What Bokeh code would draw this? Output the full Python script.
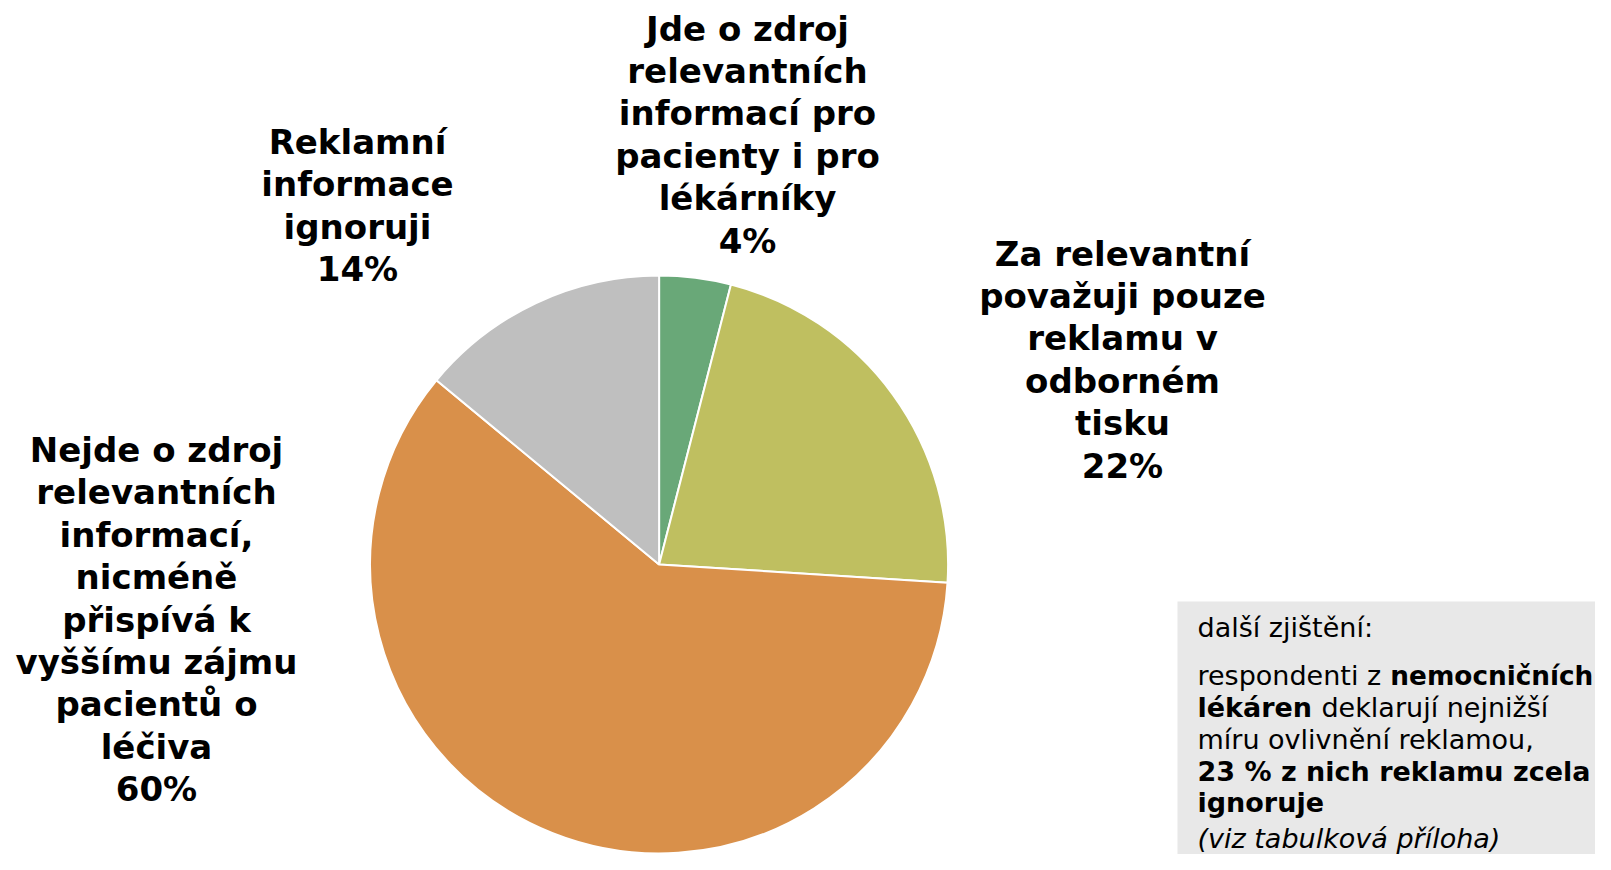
import math
from bokeh.plotting import figure
from bokeh.models import Range1d, ColumnDataSource
from bokeh.core.properties import value
from bokeh.embed import file_html
from bokeh.resources import INLINE

# ---- data ----
categories = [
    "Jde o zdroj relevantních informací pro pacienty i pro lékárníky",
    "Za relevantní považuji pouze reklamu v odborném tisku",
    "Nejde o zdroj relevantních informací, nicméně přispívá k vyššímu zájmu pacientů o léčiva",
    "Reklamní informace ignoruji",
]
shares = [4, 22, 60, 14]
colors = ["#69A878", "#BFBF60", "#D9904A", "#BFBFBF"]
label_lines = [
    ["Jde o zdroj", "relevantních", "informací pro", "pacienty i pro", "lékárníky"],
    ["Za relevantní", "považuji pouze", "reklamu v", "odborném", "tisku"],
    ["Nejde o zdroj", "relevantních", "informací,", "nicméně", "přispívá k", "vyššímu zájmu", "pacientů o", "léčiva"],
    ["Reklamní", "informace", "ignoruji"],
]
# label block centres (screen px)
label_pos = [(747, 134), (1122, 359), (156, 619), (357, 205)]

W, H = 1611, 870
FONT = "DejaVu Sans"

p = figure(width=1595, height=854, output_backend="svg", toolbar_location=None,
           x_range=Range1d(0, 1595), y_range=Range1d(H - 854, H), min_border=0)
p.axis.visible = False
p.grid.visible = False
p.outline_line_color = None
p.background_fill_color = "white"
p.border_fill_color = "white"

def sy(y):
    return H - y

# ---- pie ----
cx, cy, r = 658.6, 564, 289
total = sum(shares)
starts, ends = [], []
acc = 0.0
for v in shares:
    a0 = math.pi / 2 - 2 * math.pi * acc / total
    acc += v
    a1 = math.pi / 2 - 2 * math.pi * acc / total
    starts.append(a0)
    ends.append(a1)
src = ColumnDataSource(dict(start=starts, end=ends, color=colors, cat=categories, share=shares))
p.wedge(x=cx, y=sy(cy), radius=r, start_angle="start", end_angle="end", direction="clock",
        fill_color="color", line_color="white", line_width=2, source=src)

# ---- labels ----
LS = 42.4
for lines, share, (lx, ly) in zip(label_lines, shares, label_pos):
    all_lines = lines + [f"{share}%"]
    n = len(all_lines)
    ys = [sy(ly + (i - (n - 1) / 2) * LS) for i in range(n)]
    p.text(x=[lx] * n, y=ys, text=all_lines, text_font=value(FONT), text_font_style="bold",
           text_font_size="34px", text_align="center", text_baseline="middle", text_color="black")

# ---- note box ----
p.quad(left=1177, right=1611, bottom=sy(870), top=sy(601), fill_color="#E8E8E8", line_color=None)
bx = 1197
fs = 27
reg_w = {'r': .411, 'e': .615, 's': .521, 'p': .635, 'o': .612, 'n': .634, 'd': .635,
         't': .392, 'i': .278, ' ': .318, 'z': .525}
bold_w = {'l': .343, 'é': .678, 'k': .665, 'á': .675, 'r': .493, 'e': .678, 'n': .712, ' ': .348}
w1 = sum(reg_w[c] for c in "respondenti z ") * fs
w2 = sum(bold_w[c] for c in "lékáren ") * fs

def t(x, y, s, style="normal", size=fs):
    p.text(x=[x], y=[sy(y)], text=[s], text_font=value(FONT), text_font_style=style,
           text_font_size=f"{size}px", text_align="left", text_baseline="middle", text_color="black")

t(bx, 627, "další zjištění:")
t(bx, 675, "respondenti z ")
t(bx + w1, 675, "nemocničních", "bold", 26.3)
t(bx, 707, "lékáren", "bold")
t(bx + w2, 707, "deklarují nejnižší")
t(bx, 739, "míru ovlivnění reklamou,")
t(bx, 771, "23 % z nich reklamu zcela", "bold")
t(bx, 802, "ignoruje", "bold")
t(bx, 838, "(viz tabulková příloha)", "italic")

open("out.html", "w").write(file_html(p, INLINE))
